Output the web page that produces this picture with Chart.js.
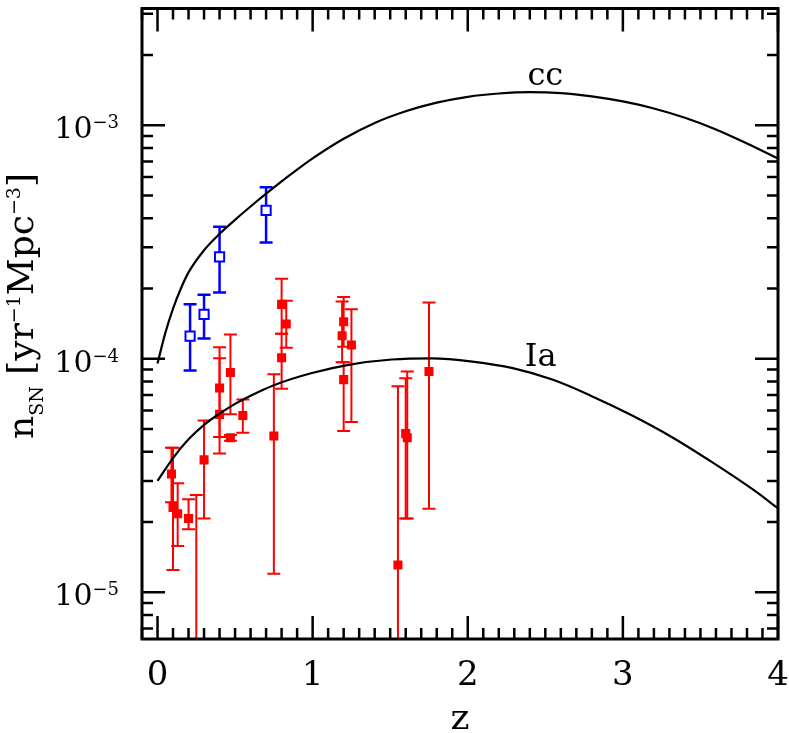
<!DOCTYPE html>
<html>
<head>
<meta charset="utf-8">
<script src="https://cdn.jsdelivr.net/npm/chart.js@4.4.0/dist/chart.umd.min.js"></script>
<style>
  body { margin: 0; background: #fff; }
  canvas { display: block; }
</style>
</head>
<body>
<canvas id="snChart" width="789" height="733"></canvas>
<script>
// model curves, rate in yr^-1 Mpc^-3
const ccModelZ    = [0, 0.05, 0.1, 0.15, 0.2, 0.3, 0.4, 0.5, 0.6, 0.7, 0.8, 0.9, 1.0, 1.2, 1.4, 1.6, 1.8, 2.0, 2.2, 2.4, 2.6, 2.8, 3.0, 3.2, 3.4, 3.6, 3.8, 4.0];
const ccModelRate = [9.55e-5, 1.288e-4, 1.641e-4, 1.995e-4, 2.344e-4, 2.917e-4, 3.428e-4, 3.936e-4, 4.487e-4, 5.093e-4, 5.754e-4, 6.457e-4, 7.211e-4, 8.75e-4, 1.023e-3, 1.148e-3, 1.25e-3, 1.324e-3, 1.368e-3, 1.387e-3, 1.374e-3, 1.33e-3, 1.265e-3, 1.18e-3, 1.076e-3, 9.594e-4, 8.356e-4, 7.211e-4];

const iaModelZ    = [0, 0.1, 0.2, 0.3, 0.4, 0.5, 0.6, 0.75, 0.99, 1.25, 1.51, 1.77, 2.03, 2.29, 2.55, 2.8, 3.06, 3.32, 3.58, 3.84, 4.0];
const iaModelRate = [2.999e-5, 3.758e-5, 4.519e-5, 5.212e-5, 5.821e-5, 6.412e-5, 6.95e-5, 7.709e-5, 8.67e-5, 9.462e-5, 9.931e-5, 1.0046e-4, 9.727e-5, 9.12e-5, 8.128e-5, 6.918e-5, 5.715e-5, 4.603e-5, 3.59e-5, 2.75e-5, 2.29e-5];

// core collapse measurements (open squares)
const ccZ    = [0.21, 0.30, 0.40, 0.70];
const ccRate = [1.25e-4, 1.55e-4, 2.73e-4, 4.32e-4];
const ccHi   = [1.71e-4, 1.88e-4, 3.68e-4, 5.43e-4];
const ccLo   = [8.9e-5, 1.22e-4, 1.92e-4, 3.15e-4];

// type Ia measurements (filled squares)
const iaZ    = [0.09, 0.10, 0.13, 0.20, 0.25, 0.30, 0.40, 0.40, 0.47, 0.47, 0.55, 0.75, 0.80, 0.80, 0.83, 1.20, 1.19, 1.25, 1.20, 1.55, 1.60, 1.61, 1.75];
const iaRate = [3.21e-5, 2.31e-5, 2.17e-5, 2.07e-5, 5.0e-6, 3.69e-5, 7.49e-5, 5.78e-5, 8.74e-5, 4.59e-5, 5.72e-5, 4.67e-5, 1.01e-4, 1.71e-4, 1.41e-4, 1.44e-4, 1.255e-4, 1.146e-4, 8.14e-5, 1.31e-5, 4.78e-5, 4.59e-5, 8.82e-5];
const iaHi   = [4.16e-5, 4.16e-5, 2.93e-5, 2.5e-5, 2.61e-5, 5.44e-5, 1.12e-4, 1.005e-4, 1.27e-4, 4.72e-5, 6.69e-5, 8.59e-5, 1.28e-4, 2.2e-4, 1.77e-4, 1.84e-4, 1.76e-4, 1.63e-4, 9.66e-5, 7.62e-5, 8.26e-5, 8.82e-5, 1.74e-4];
const iaLo   = [2.43e-5, 1.245e-5, 1.58e-5, 1.86e-5, 3.0e-6, 2.07e-5, 4.62e-5, 3.93e-5, 5.78e-5, 4.46e-5, 4.82e-5, 1.2e-5, 7.45e-5, 1.28e-4, 1.115e-4, 1.127e-4, 9.66e-5, 5.36e-5, 4.9e-5, 3.0e-6, 2.07e-5, 2.07e-5, 2.28e-5];

// axes
const xMajorTicks = [0, 1, 2, 3, 4];
const yMajorTicks = [1e-5, 1e-4, 1e-3];
const yTickExp    = ['\u22125', '\u22124', '\u22123'];
const curveLabels = [
  { text: 'cc', z: 2.5, rate: 1.49e-3 },
  { text: 'Ia', z: 2.47, rate: 9.27e-5 }
];
const yTitleParts = [
  { t: 'n', small: false, dy: 0 },
  { t: 'SN', small: true, dy: 10 },
  { t: ' [', small: false, dy: 0 },
  { t: 'yr', small: false, dy: 0 },
  { t: '\u22121', small: true, dy: -13 },
  { t: 'Mpc', small: false, dy: 0 },
  { t: '\u22123', small: true, dy: -13 },
  { t: ']', small: false, dy: 0 }
];

const SERIF = '"DejaVu Serif", serif';

function pts(xs, ys) {
  return xs.map((v, i) => ({ x: v, y: ys[i] }));
}

// error bars drawn under the markers
const errorBars = {
  id: 'errorBars',
  beforeDatasetsDraw(chart) {
    const { ctx, chartArea: a, scales: { x, y } } = chart;
    ctx.save();
    ctx.beginPath();
    ctx.rect(a.left, a.top, a.right - a.left, a.bottom - a.top);
    ctx.clip();
    chart.data.datasets.forEach(ds => {
      if (!ds.errHi) return;
      ctx.strokeStyle = ds.errColor;
      ctx.lineWidth = ds.errWidth;
      ds.data.forEach((p, i) => {
        const px = x.getPixelForValue(p.x);
        const top = y.getPixelForValue(ds.errHi[i]);
        const bot = y.getPixelForValue(ds.errLo[i]);
        const cap = 6.5;
        ctx.beginPath();
        ctx.moveTo(px, top); ctx.lineTo(px, bot);
        ctx.moveTo(px - cap, top); ctx.lineTo(px + cap, top);
        ctx.moveTo(px - cap, bot); ctx.lineTo(px + cap, bot);
        ctx.stroke();
      });
    });
    ctx.restore();
  }
};

// box, inward ticks on all sides, y labels with exponents, y title, curve names
const frame = {
  id: 'frame',
  afterDraw(chart) {
    const { ctx, chartArea: a, scales: { x, y } } = chart;
    ctx.save();
    ctx.strokeStyle = '#000';
    ctx.lineWidth = 2.5;
    ctx.beginPath();
    for (let i = -1; i <= 40; i++) {
      const v = i / 10;
      const px = x.getPixelForValue(v);
      const len = (i % 10 === 0) ? 23 : 11;
      ctx.moveTo(px, a.bottom); ctx.lineTo(px, a.bottom - len);
      ctx.moveTo(px, a.top); ctx.lineTo(px, a.top + len);
    }
    for (let e = -6; e <= -3; e++) {
      for (let m = 1; m <= 9; m++) {
        const v = m * Math.pow(10, e);
        if (v < y.min || v > y.max) continue;
        const py = y.getPixelForValue(v);
        const len = m === 1 ? 23 : 11;
        ctx.moveTo(a.left, py); ctx.lineTo(a.left + len, py);
        ctx.moveTo(a.right, py); ctx.lineTo(a.right - len, py);
      }
    }
    ctx.stroke();
    ctx.lineWidth = 3;
    ctx.strokeRect(a.left, a.top, a.right - a.left, a.bottom - a.top);

    // y tick labels: 10 with superscript exponent
    ctx.fillStyle = '#000';
    ctx.textBaseline = 'alphabetic';
    yMajorTicks.forEach((v, i) => {
      const py = y.getPixelForValue(v);
      ctx.font = '18px ' + SERIF;
      const w = ctx.measureText(yTickExp[i]).width;
      ctx.textAlign = 'left';
      ctx.fillText(yTickExp[i], 119 - w, py + 3);
      ctx.font = '30px ' + SERIF;
      ctx.textAlign = 'right';
      ctx.fillText('10', 119 - w, py + 13);
    });

    // curve names
    ctx.font = '32px ' + SERIF;
    ctx.textAlign = 'center';
    curveLabels.forEach(l => {
      ctx.fillText(l.text, x.getPixelForValue(l.z), y.getPixelForValue(l.rate));
    });

    // rotated y title
    const big = '36px ' + SERIF, small = '19px ' + SERIF;
    let total = 0;
    yTitleParts.forEach(p => { ctx.font = p.small ? small : big; total += ctx.measureText(p.t).width; });
    ctx.translate(33, 306 + total / 2);
    ctx.rotate(-Math.PI / 2);
    ctx.textAlign = 'left';
    let cx = 0;
    yTitleParts.forEach(p => {
      ctx.font = p.small ? small : big;
      ctx.fillText(p.t, cx, p.dy);
      cx += ctx.measureText(p.t).width;
    });
    ctx.restore();
  }
};

function noPad(s) {
  s.paddingLeft = 0; s.paddingRight = 0; s.paddingTop = 0; s.paddingBottom = 0;
}

new Chart(document.getElementById('snChart'), {
  type: 'scatter',
  data: {
    datasets: [
      {
        type: 'line',
        data: pts(ccModelZ, ccModelRate),
        borderColor: '#000',
        borderWidth: 2.2,
        pointRadius: 0,
        cubicInterpolationMode: 'monotone',
        fill: false
      },
      {
        type: 'line',
        data: pts(iaModelZ, iaModelRate),
        borderColor: '#000',
        borderWidth: 2.2,
        pointRadius: 0,
        cubicInterpolationMode: 'monotone',
        fill: false
      },
      {
        data: pts(ccZ, ccRate),
        errHi: ccHi, errLo: ccLo, errColor: '#0000ff', errWidth: 2.5,
        pointStyle: 'rect',
        pointRadius: 6.5,
        pointBorderWidth: 2,
        borderColor: '#0000ff',
        backgroundColor: '#fff'
      },
      {
        data: pts(iaZ, iaRate),
        errHi: iaHi, errLo: iaLo, errColor: '#ff0000', errWidth: 2,
        pointStyle: 'rect',
        pointRadius: 6.4,
        pointBorderWidth: 0,
        borderColor: '#ff0000',
        backgroundColor: '#ff0000'
      }
    ]
  },
  options: {
    responsive: false,
    animation: false,
    events: [],
    layout: { padding: { top: 5, right: 11, left: 0, bottom: 0 } },
    plugins: { legend: { display: false }, tooltip: { enabled: false } },
    scales: {
      x: {
        type: 'linear',
        min: -0.1,
        max: 4,
        afterBuildTicks: s => { s.ticks = xMajorTicks.map(v => ({ value: v })); },
        afterFit: s => { s.height = 94; noPad(s); },
        grid: { display: false, drawTicks: false },
        border: { display: false },
        ticks: {
          autoSkip: false,
          maxRotation: 0,
          padding: 17,
          color: '#000',
          font: { family: SERIF, size: 34 }
        },
        title: {
          display: true,
          text: 'z',
          color: '#000',
          font: { family: SERIF, size: 36 },
          padding: { top: 0, bottom: -8 }
        }
      },
      y: {
        type: 'logarithmic',
        min: 6.31e-6,
        max: 3.162e-3,
        afterBuildTicks: s => { s.ticks = yMajorTicks.map(v => ({ value: v })); },
        afterFit: s => { s.width = 142; noPad(s); },
        grid: { display: false, drawTicks: false },
        border: { display: false },
        ticks: { display: false }
      }
    }
  },
  plugins: [errorBars, frame]
});
</script>
</body>
</html>
